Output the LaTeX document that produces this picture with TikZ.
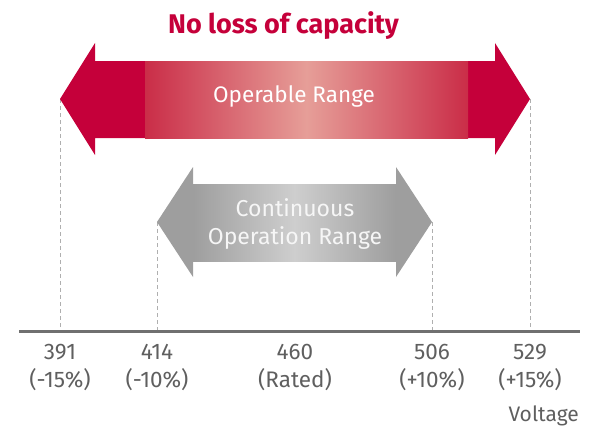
\documentclass[tikz,border=0pt]{standalone}
\usepackage{fontspec}
\setmainfont{Fira Sans}
\definecolor{lgred}{RGB}{197,0,58}
\definecolor{lgpink}{RGB}{230,158,152}
\definecolor{lgmid}{RGB}{202,45,72}
\definecolor{gdark}{RGB}{158,158,158}
\definecolor{glight}{RGB}{206,206,206}
\definecolor{txtgray}{RGB}{95,95,95}
\definecolor{axisgray}{RGB}{112,112,112}
\definecolor{dashgray}{RGB}{175,175,175}
\begin{document}
\begin{tikzpicture}[x=1pt,y=-1pt,
  lbl/.style={font=\fontsize{22.5}{28}\selectfont, text=txtgray, align=center, inner sep=0pt},
  guide/.style={draw=dashgray, line width=1pt, dash pattern=on 4pt off 3pt},
  inarrow/.style={align=center, inner sep=0pt}]
\useasboundingbox (0,0) rectangle (604,428);
% coordinates
\coordinate (rl) at (60,99);
\coordinate (rr) at (530,99);
\coordinate (gl) at (157,222);
\coordinate (gr) at (432,222);
\coordinate (ax1) at (60,331);
\coordinate (ax2) at (157,331);
\coordinate (ax3) at (432,331);
\coordinate (ax4) at (530,331);
\coordinate (axL) at (19,331);
\coordinate (axR) at (580,331);
% guides
\draw[guide] (rl) -- (ax1);
\draw[guide] (gl) -- (ax2);
\draw[guide] (gr) -- (ax3);
\draw[guide] (rr) -- (ax4);
% red arrow
\fill[lgred] (rl) -- (95,43) -- (95,61) -- (495,61) -- (495,43) -- (rr) -- (495,155) -- (495,138) -- (95,138) -- (95,155) -- cycle;
\shade[left color=lgmid, right color=lgmid, middle color=lgpink] (145,61) rectangle (468,138);
% gray arrow
\fill[gdark] (gl) -- (193,167) -- (193,184) -- (396,184) -- (396,167) -- (gr) -- (396,277) -- (396,261) -- (193,261) -- (193,277) -- cycle;
\shade[left color=gdark, right color=gdark, middle color=glight] (193,184) rectangle (396,261);
% axis
\draw[axisgray, line width=3pt] (axL) -- (axR);
% texts
\node[font=\fontsize{27}{30}\selectfont\bfseries, text=lgred, anchor=base, inner sep=0pt] (title) at (283.5,34) {No loss of capacity};
\node[inarrow, text=white, font=\fontsize{22.5}{26}\selectfont] (op) at (294,96) {Operable Range};
\node[inarrow, text={rgb,255:red,246;green,246;blue,246}, font=\fontsize{23}{28}\selectfont] (cont) at (295,224) {Continuous\\Operation Range};
\node[lbl] (l1) at (60,367) {391\\(-15\%)};
\node[lbl] (l2) at (157,367) {414\\(-10\%)};
\node[lbl] (l3) at (295,367) {460\\(Rated)};
\node[lbl] (l4) at (432,367) {506\\(+10\%)};
\node[lbl] (l5) at (530,367) {529\\(+15\%)};
\node[lbl, anchor=base east, font=\fontsize{21}{28}\selectfont] (volt) at (579,421) {Voltage};
\end{tikzpicture}
\end{document}
